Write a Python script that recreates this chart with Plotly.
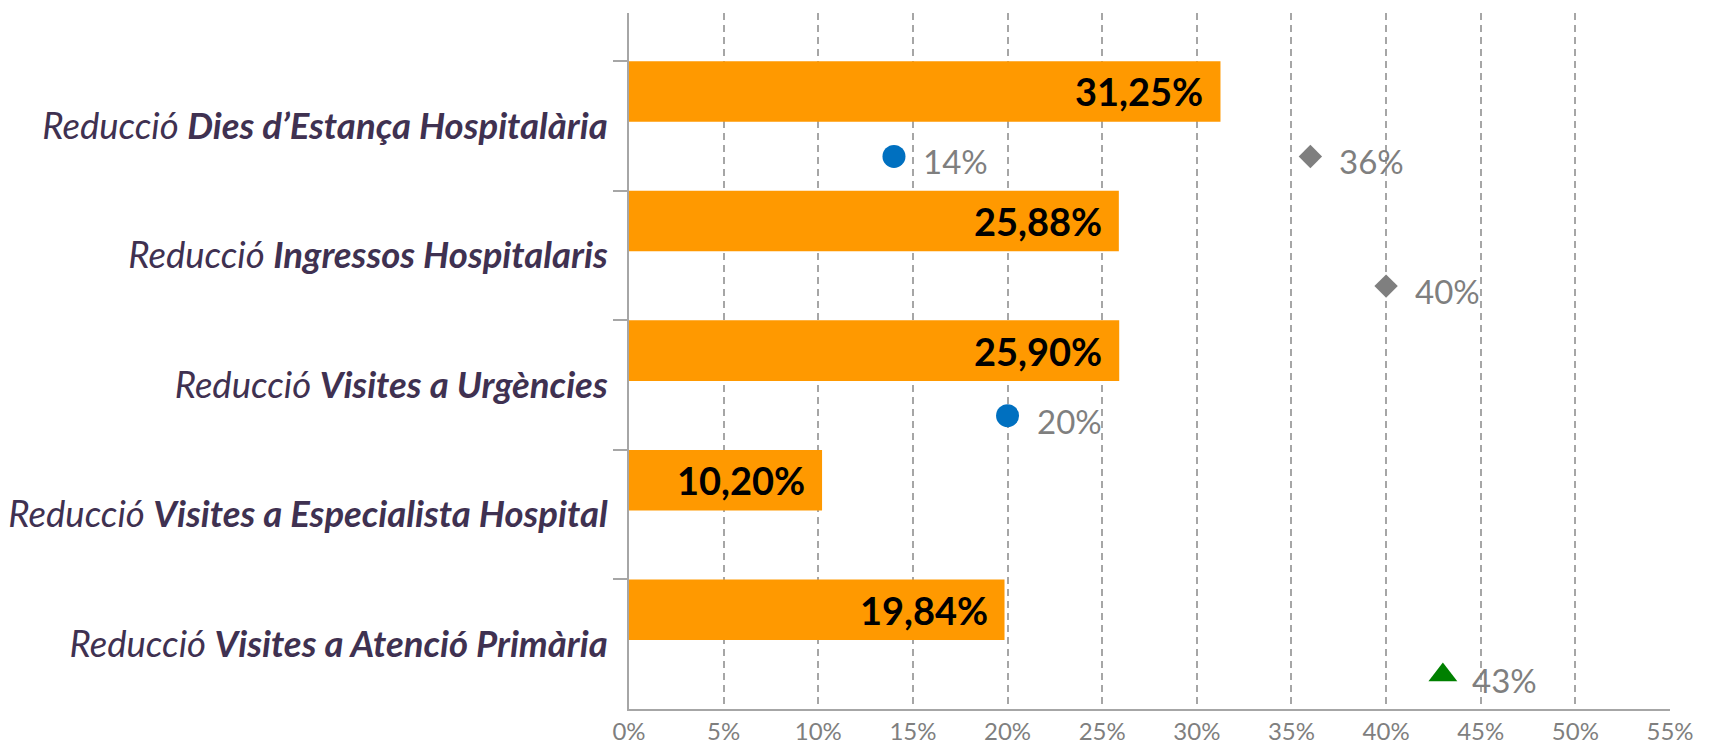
import plotly.graph_objects as go

# ---- data ----
categories_bold = [
    "Dies d’Estança Hospitalària",
    "Ingressos Hospitalaris",
    "Visites a Urgències",
    "Visites a Especialista Hospital",
    "Visites a Atenció Primària",
]
bar_values = [31.25, 25.88, 25.90, 10.20, 19.84]
circle_values = [14, None, 20, None, None]     # blue circles
diamond_values = [36, 40, None, None, None]    # grey diamonds
triangle_values = [None, None, None, None, 43] # green triangle
x_ticks = [0, 5, 10, 15, 20, 25, 30, 35, 40, 45, 50, 55]

FONT = "Lato"
BAR_OFF, BAR_W, MK_OFF = 0.235, 0.467, 0.737

n = len(categories_bold)
bar_y = [i + BAR_OFF for i in range(n)]
mk_y = [i + MK_OFF for i in range(n)]

fig = go.Figure()
fig.add_trace(go.Bar(
    x=bar_values, y=bar_y, orientation="h", width=BAR_W,
    marker=dict(color="#FF9900", line=dict(width=0)), hoverinfo="skip"))

def fmt_pct(v):
    return f"{v:.2f}".replace(".", ",") + "%"

annotations = []
for v, y in zip(bar_values, bar_y):
    annotations.append(dict(x=v, y=y, xref="x", yref="y", text=f"<b>{fmt_pct(v)}</b>",
                            showarrow=False, xanchor="right", yanchor="middle", xshift=-15,
                            font=dict(family=FONT, size=38, color="#000000")))

series = [
    (circle_values, "circle", 23, "#0070C0"),
    (diamond_values, "diamond", 18, "#7F7F7F"),
    (triangle_values, "triangle-up", 25, "#008000"),
]
for vals, sym, size, col in series:
    xs = [v for v in vals if v is not None]
    ys = [mk_y[i] for i, v in enumerate(vals) if v is not None]
    fig.add_trace(go.Scatter(x=xs, y=ys, mode="markers",
                             marker=dict(symbol=sym, size=size, color=col, line=dict(width=0)),
                             hoverinfo="skip"))
    for x, y in zip(xs, ys):
        annotations.append(dict(x=x, y=y, xref="x", yref="y", text=f"{x:g}%",
                                showarrow=False, xanchor="left", yanchor="middle",
                                xshift=27, yshift=-5,
                                font=dict(family=FONT, size=33, color="#7F7F7F")))

tick_text = [f"<i>Reducció <b>{c}</b></i>" for c in categories_bold]

fig.update_layout(
    width=1713, height=745, autosize=False,
    margin=dict(l=629, r=43, t=13, b=36, pad=0),
    plot_bgcolor="white", paper_bgcolor="white",
    showlegend=False,
    annotations=annotations,
    xaxis=dict(
        range=[0, 55], tickvals=x_ticks, ticktext=[f"{t}%" for t in x_ticks],
        showgrid=True, gridcolor="#A6A6A6", gridwidth=2, griddash="7px,5px",
        zeroline=False, showline=True, linecolor="#A6A6A6", linewidth=2,
        ticks="", ticklabelstandoff=0, automargin=False,
        tickfont=dict(family=FONT, size=24, color="#7F7F7F"),
        fixedrange=True,
    ),
    yaxis=dict(
        range=[5, -0.37], tickvals=[i + 0.5 for i in range(n)], ticktext=tick_text,
        showgrid=False, zeroline=False, showline=True, linecolor="#A6A6A6", linewidth=2,
        ticks="", ticklabelstandoff=12, automargin=False,
        tickfont=dict(family=FONT, size=36.5, color="#3F3151"),
        minor=dict(tickvals=list(range(n)), ticks="outside", ticklen=14,
                   tickwidth=2, tickcolor="#A6A6A6", showgrid=False),
        fixedrange=True,
    ),
)

fig.write_html("out.html", config={"displayModeBar": False, "responsive": False},
               post_script="document.body.style.margin='0';document.body.style.overflow='hidden';")
